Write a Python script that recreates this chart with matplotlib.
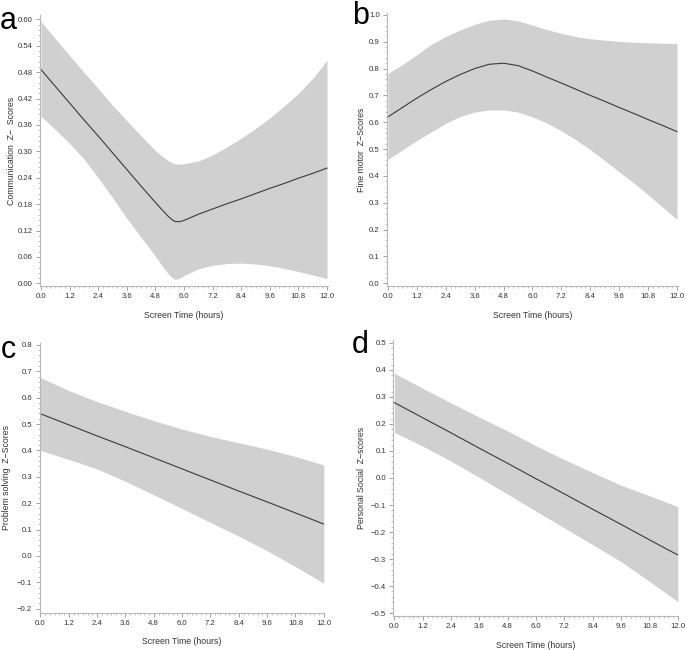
import matplotlib
matplotlib.use("Agg")
import matplotlib.pyplot as plt
from matplotlib.ticker import MultipleLocator, AutoMinorLocator, FuncFormatter
import numpy as np

plt.rcParams['font.family'] = ['Liberation Sans Narrow', 'Liberation Sans', 'DejaVu Sans']

# ---------------- Data ----------------
# Panel a: Communication
a_x = [0, 0.6, 1.2, 1.8, 2.4, 3.0, 3.6, 4.2, 4.8, 5.1, 5.4, 5.6, 5.8, 6.0,
       6.6, 7.2, 7.8, 8.4, 9.0, 9.6, 10.2, 10.8, 11.4, 12.0]
a_fit = [0.486, 0.448, 0.410, 0.372, 0.335, 0.297, 0.259, 0.221, 0.184, 0.166,
         0.149, 0.141, 0.140, 0.143, 0.157, 0.169, 0.181, 0.192, 0.204, 0.216,
         0.227, 0.239, 0.250, 0.262]
a_upper = [0.596, 0.556, 0.518, 0.480, 0.443, 0.405, 0.370, 0.335, 0.302, 0.288,
           0.277, 0.272, 0.271, 0.272, 0.278, 0.292, 0.310, 0.330, 0.352, 0.376,
           0.403, 0.432, 0.466, 0.507]
a_lower = [0.380, 0.350, 0.318, 0.283, 0.240, 0.195, 0.148, 0.105, 0.062, 0.038,
           0.018, 0.009, 0.011, 0.018, 0.033, 0.041, 0.045, 0.046, 0.044, 0.040,
           0.034, 0.027, 0.019, 0.011]

# Panel b: Fine motor
b_x = [0, 0.6, 1.2, 1.8, 2.4, 3.0, 3.6, 4.2, 4.8, 5.4, 6.0, 6.6, 7.2, 7.8,
       8.4, 9.0, 9.6, 10.2, 10.8, 11.4, 12.0]
b_fit = [0.620, 0.655, 0.690, 0.722, 0.752, 0.778, 0.800, 0.816, 0.820, 0.811,
         0.791, 0.768, 0.746, 0.723, 0.700, 0.678, 0.655, 0.633, 0.610, 0.588, 0.565]
b_upper = [0.782, 0.815, 0.852, 0.890, 0.920, 0.944, 0.965, 0.980, 0.985, 0.978,
           0.962, 0.945, 0.931, 0.919, 0.911, 0.906, 0.901, 0.898, 0.896, 0.894, 0.894]
b_lower = [0.462, 0.497, 0.532, 0.564, 0.596, 0.622, 0.638, 0.646, 0.646, 0.638,
           0.620, 0.597, 0.568, 0.535, 0.498, 0.457, 0.415, 0.374, 0.330, 0.284, 0.238]

# Panel c: Problem solving
c_x = [0, 1.2, 2.4, 3.6, 4.8, 6.0, 7.2, 8.4, 9.6, 10.8, 12.0]
c_fit = [0.539, 0.497, 0.455, 0.414, 0.372, 0.330, 0.288, 0.246, 0.205, 0.163, 0.121]
c_upper = [0.676, 0.627, 0.585, 0.548, 0.513, 0.481, 0.453, 0.429, 0.405, 0.377, 0.345]
c_lower = [0.400, 0.366, 0.330, 0.283, 0.232, 0.180, 0.127, 0.075, 0.020, -0.040, -0.103]

# Panel d: Personal Social
d_x = [0, 1.2, 2.4, 3.6, 4.8, 6.0, 7.2, 8.4, 9.6, 10.8, 12.0]
d_fit = [0.279, 0.223, 0.167, 0.110, 0.054, -0.003, -0.059, -0.116, -0.172, -0.229, -0.285]
d_upper = [0.388, 0.332, 0.278, 0.225, 0.174, 0.119, 0.068, 0.020, -0.027, -0.066, -0.106]
d_lower = [0.169, 0.118, 0.062, 0.002, -0.060, -0.123, -0.185, -0.247, -0.310, -0.383, -0.458]

x_label = "Screen Time (hours)"
y_labels = ["Communication  Z\u2212  Scores", "Fine motor  Z\u2212Scores",
            "Problem solving  Z\u2212Scores", "Personal Social  Z\u2212scores"]
panel_letters = ["a", "b", "c", "d"]

# ---------------- Figure ----------------
W, H = 685, 650
fig = plt.figure(figsize=(W / 100, H / 100), dpi=100)

def px_axes(l, t, r, b):
    return fig.add_axes([l / W, 1 - b / H, (r - l) / W, (b - t) / H])

band_color = "#d0d0d0"
line_color = "#3a3a3a"
spine_color = "#b8b8b8"
text_color = "#333333"

def fmt(decimals):
    def f(v, pos):
        s = f"{abs(v):.{decimals}f}"
        if v < -1e-9:
            return "\u2212" + s
        return s
    return FuncFormatter(f)

specs = [
    dict(rect=(40, 15, 327.5, 286), x=a_x, fit=a_fit, up=a_upper, lo=a_lower,
         ylim=(-0.006, 0.61), ystep=0.06, dec=2, ylabel=y_labels[0],
         ylabel_x=12, xlabel_y=315, letter=(0, 29)),
    dict(rect=(387, 13, 677.5, 286), x=b_x, fit=b_fit, up=b_upper, lo=b_lower,
         ylim=(-0.01, 1.007), ystep=0.1, dec=1, ylabel=y_labels[1],
         ylabel_x=362, xlabel_y=315, letter=(352, 24)),
    dict(rect=(39.5, 342.5, 324.3, 613), x=c_x, fit=c_fit, up=c_upper, lo=c_lower,
         ylim=(-0.216, 0.809), ystep=0.1, dec=1, ylabel=y_labels[2],
         ylabel_x=7, xlabel_y=642, letter=(1, 358)),
    dict(rect=(393.5, 340, 678.3, 616), x=d_x, fit=d_fit, up=d_upper, lo=d_lower,
         ylim=(-0.511, 0.511), ystep=0.1, dec=1, ylabel=y_labels[3],
         ylabel_x=362, xlabel_y=645, letter=(352, 353)),
]

for i, s in enumerate(specs):
    l, t, r, b = s["rect"]
    ax = px_axes(l, t, r, b)
    ax.fill_between(s["x"], s["lo"], s["up"], color=band_color, linewidth=0)
    ax.plot(s["x"], s["fit"], color=line_color, linewidth=0.8)
    ax.set_xlim(-0.04, 12.02)
    ax.set_ylim(*s["ylim"])
    ax.xaxis.set_major_locator(MultipleLocator(1.2))
    ax.xaxis.set_minor_locator(AutoMinorLocator(6))
    ax.xaxis.set_major_formatter(fmt(1))
    ax.yaxis.set_major_locator(MultipleLocator(s["ystep"]))
    ax.yaxis.set_minor_locator(AutoMinorLocator(5))
    ax.yaxis.set_major_formatter(fmt(s["dec"]))
    for side in ("top", "right"):
        ax.spines[side].set_visible(False)
    for side in ("left", "bottom"):
        ax.spines[side].set_color(spine_color)
        ax.spines[side].set_linewidth(0.8)
    ax.tick_params(which="major", length=2.8, width=0.6, color="#909090",
                   labelsize=5.6, labelcolor=text_color, pad=2.5)
    ax.tick_params(which="minor", length=1.6, width=0.5, color="#a8a8a8")
    cx = (l + r) / 2
    cy = (t + b) / 2
    fig.text(cx / W, 1 - s["xlabel_y"] / H, x_label, ha="center", va="center",
             fontsize=6.3, color=text_color)
    fig.text(s["ylabel_x"] / W, 1 - cy / H, s["ylabel"], ha="center", va="center",
             rotation=90, fontsize=6.3, color=text_color)
    lx, ly = s["letter"]
    fig.text(lx / W, 1 - ly / H, panel_letters[i], ha="left", va="baseline",
             fontsize=22, color="black", family=["Liberation Sans", "DejaVu Sans"])

fig.savefig("out.png", dpi=100, facecolor="white")
